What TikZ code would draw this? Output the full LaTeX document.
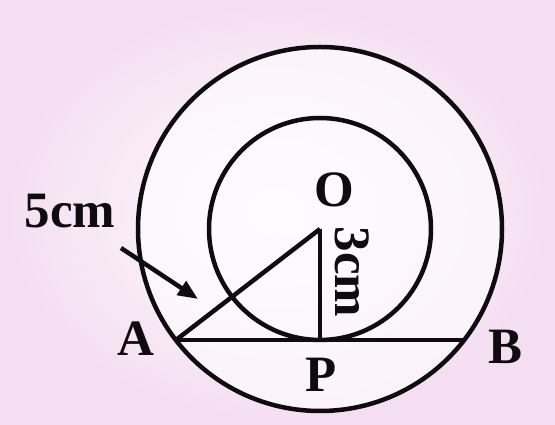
\documentclass[tikz,border=0pt]{standalone}
\usepackage{fontspec}
\setmainfont{Liberation Serif}
\usetikzlibrary{arrows.meta}
\definecolor{bgpink}{RGB}{244,222,242}
\definecolor{bgwhite}{RGB}{254,252,254}
\definecolor{ink}{RGB}{15,12,15}
\tikzset{
  geo/.style={draw=ink, line width=4.5pt},
  lab/.style={font=\fontsize{51}{56}\selectfont\bfseries, text=ink, inner sep=0pt},
  pointer/.style={draw=ink, line width=4.5pt, -{Triangle[length=20pt,width=16pt]}}
}
\begin{document}
\begin{tikzpicture}[x=1pt,y=1pt]
  \useasboundingbox (0,0) rectangle (555,425);
  \shade[inner color=bgwhite, outer color=bgpink] (0,0) rectangle (555,425);
  \fill[bgwhite, opacity=0.7] (320,196) circle (182);
  % points
  \coordinate (O) at (320,196);
  \coordinate (P) at (320,85);
  \coordinate (A) at (176,85);
  \coordinate (B) at (464,85);
  \coordinate (arrS) at (121,177);
  \coordinate (arrE) at (198,126);
  % circles
  \draw[geo] (O) circle (182);
  \draw[geo] (O) circle (111);
  % lines
  \draw[geo] (A) -- (B);
  \draw[geo] (O) -- (A);
  \draw[geo] (O) -- (P);
  \draw[pointer] (arrS) -- (arrE);
  % labels
  \node[lab] (labO) at (334,235) {O};
  \node[lab] (labP) at (321,50) {P};
  \node[lab] (labA) at (136,86) {A};
  \node[lab] (labB) at (506,78) {B};
  \node[lab] (lab5) at (70,214) {5cm};
  \node[lab, rotate=-90] (lab3) at (352,153) {3cm};
\end{tikzpicture}
\end{document}
